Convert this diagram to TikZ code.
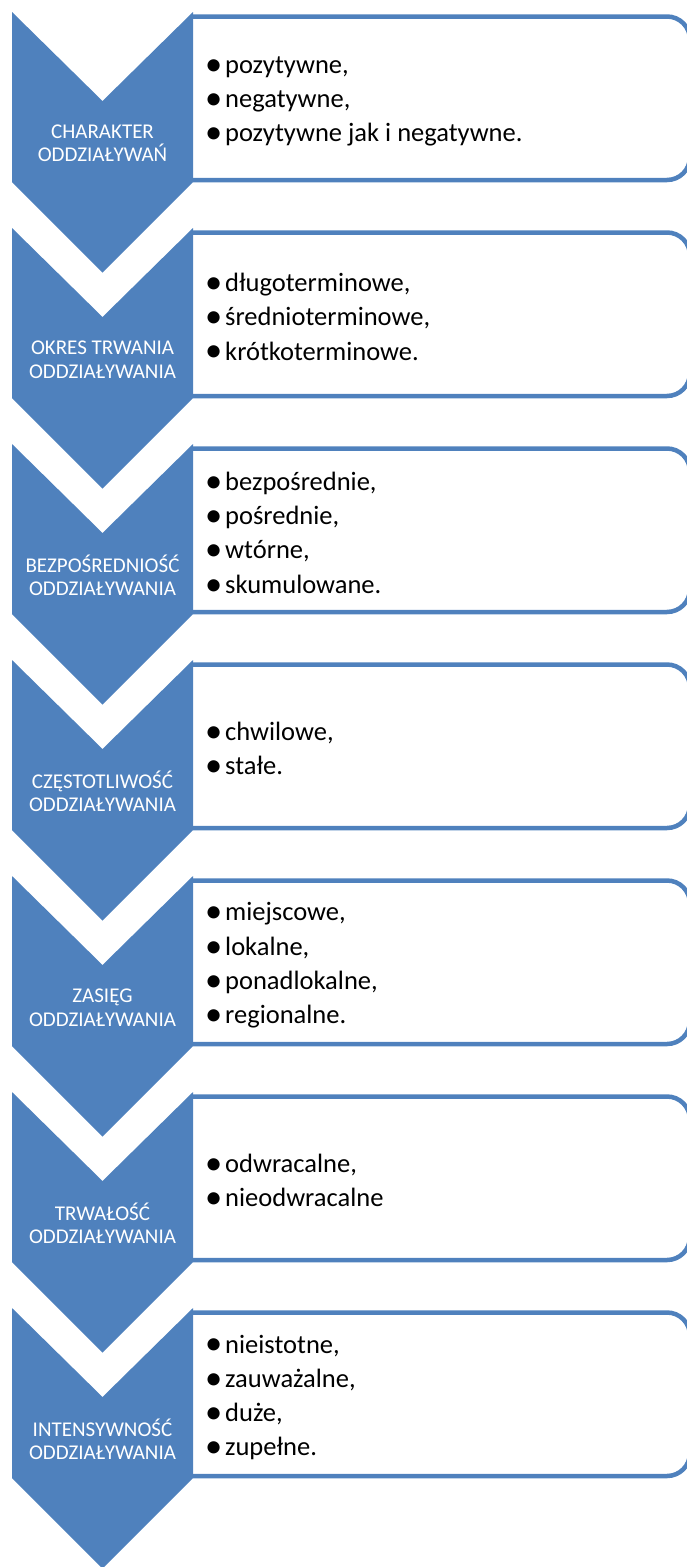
\documentclass[tikz,border=0pt]{standalone}
\usepackage{fontspec}
\setmainfont{Carlito}

\definecolor{chevblue}{HTML}{4F81BD}
\tikzset{
  chev/.style={fill=chevblue},
  itembox/.style={draw=chevblue, line width=4.5pt, rounded corners=23pt},
  chevtext/.style={text=white, align=center, inner sep=0pt, font=\fontsize{21}{23.5}\selectfont},
  itemlist/.style={anchor=west, align=left, inner sep=0pt, font=\fontsize{26.5}{34.3}\selectfont},
}
\newcommand{\itm}[1]{\makebox[23pt][c]{\raisebox{-0.07em}{\scalebox{1.3}{•}}}#1}

\begin{document}
\begin{tikzpicture}[x=1pt, y=-1pt]
    \useasboundingbox (0,0) rectangle (686,1567);

    \begin{scope}[shift={(0,12)}]
    \draw[itembox] (193,4.5) -- (690,4.5) -- (690,168) -- (193,168);
    \fill[chev] (12,0) -- (102.5,89) -- (193,0) -- (193,170) -- (102.5,260.5) -- (12,170) -- cycle;
    \node[chevtext] (charakter) at (102.5,131.5) {CHARAKTER\\ODDZIAŁYWAŃ};
    \node[itemlist] (charlist) at (202,89.5) {\itm{pozytywne,}\\\itm{negatywne,}\\\itm{pozytywne jak i negatywne.}};
    \end{scope}

    \begin{scope}[shift={(0,228)}]
    \draw[itembox] (193,4.5) -- (690,4.5) -- (690,168) -- (193,168);
    \fill[chev] (12,0) -- (102.5,89) -- (193,0) -- (193,170) -- (102.5,260.5) -- (12,170) -- cycle;
    \node[chevtext] (okres) at (102.5,131.5) {OKRES TRWANIA\\ODDZIAŁYWANIA};
    \node[itemlist] (okreslist) at (202,89.5) {\itm{długoterminowe,}\\\itm{średnioterminowe,}\\\itm{krótkoterminowe.}};
    \end{scope}

    \begin{scope}[shift={(0,444)}]
    \draw[itembox] (193,4.5) -- (690,4.5) -- (690,168) -- (193,168);
    \fill[chev] (12,0) -- (102.5,89) -- (193,0) -- (193,170) -- (102.5,260.5) -- (12,170) -- cycle;
    \node[chevtext] (bezpo) at (102.5,131.5) {BEZPOŚREDNIOŚĆ\\ODDZIAŁYWANIA};
    \node[itemlist] (bezpolist) at (202,89.5) {\itm{bezpośrednie,}\\\itm{pośrednie,}\\\itm{wtórne,}\\\itm{skumulowane.}};
    \end{scope}

    \begin{scope}[shift={(0,660)}]
    \draw[itembox] (193,4.5) -- (690,4.5) -- (690,168) -- (193,168);
    \fill[chev] (12,0) -- (102.5,89) -- (193,0) -- (193,170) -- (102.5,260.5) -- (12,170) -- cycle;
    \node[chevtext] (czest) at (102.5,131.5) {CZĘSTOTLIWOŚĆ\\ODDZIAŁYWANIA};
    \node[itemlist] (czestlist) at (202,89.5) {\itm{chwilowe,}\\\itm{stałe.}};
    \end{scope}

    \begin{scope}[shift={(0,876)}]
    \draw[itembox] (193,4.5) -- (690,4.5) -- (690,168) -- (193,168);
    \fill[chev] (12,0) -- (102.5,89) -- (193,0) -- (193,170) -- (102.5,260.5) -- (12,170) -- cycle;
    \node[chevtext] (zasieg) at (102.5,131.5) {ZASIĘG\\ODDZIAŁYWANIA};
    \node[itemlist] (zasieglist) at (202,89.5) {\itm{miejscowe,}\\\itm{lokalne,}\\\itm{ponadlokalne,}\\\itm{regionalne.}};
    \end{scope}

    \begin{scope}[shift={(0,1092)}]
    \draw[itembox] (193,4.5) -- (690,4.5) -- (690,168) -- (193,168);
    \fill[chev] (12,0) -- (102.5,89) -- (193,0) -- (193,170) -- (102.5,260.5) -- (12,170) -- cycle;
    \node[chevtext] (trwal) at (102.5,131.5) {TRWAŁOŚĆ\\ODDZIAŁYWANIA};
    \node[itemlist] (trwallist) at (202,89.5) {\itm{odwracalne,}\\\itm{nieodwracalne}};
    \end{scope}

    \begin{scope}[shift={(0,1308)}]
    \draw[itembox] (193,4.5) -- (690,4.5) -- (690,168) -- (193,168);
    \fill[chev] (12,0) -- (102.5,89) -- (193,0) -- (193,170) -- (102.5,260.5) -- (12,170) -- cycle;
    \node[chevtext] (intens) at (102.5,131.5) {INTENSYWNOŚĆ\\ODDZIAŁYWANIA};
    \node[itemlist] (intenslist) at (202,89.5) {\itm{nieistotne,}\\\itm{zauważalne,}\\\itm{duże,}\\\itm{zupełne.}};
    \end{scope}

\end{tikzpicture}
\end{document}
